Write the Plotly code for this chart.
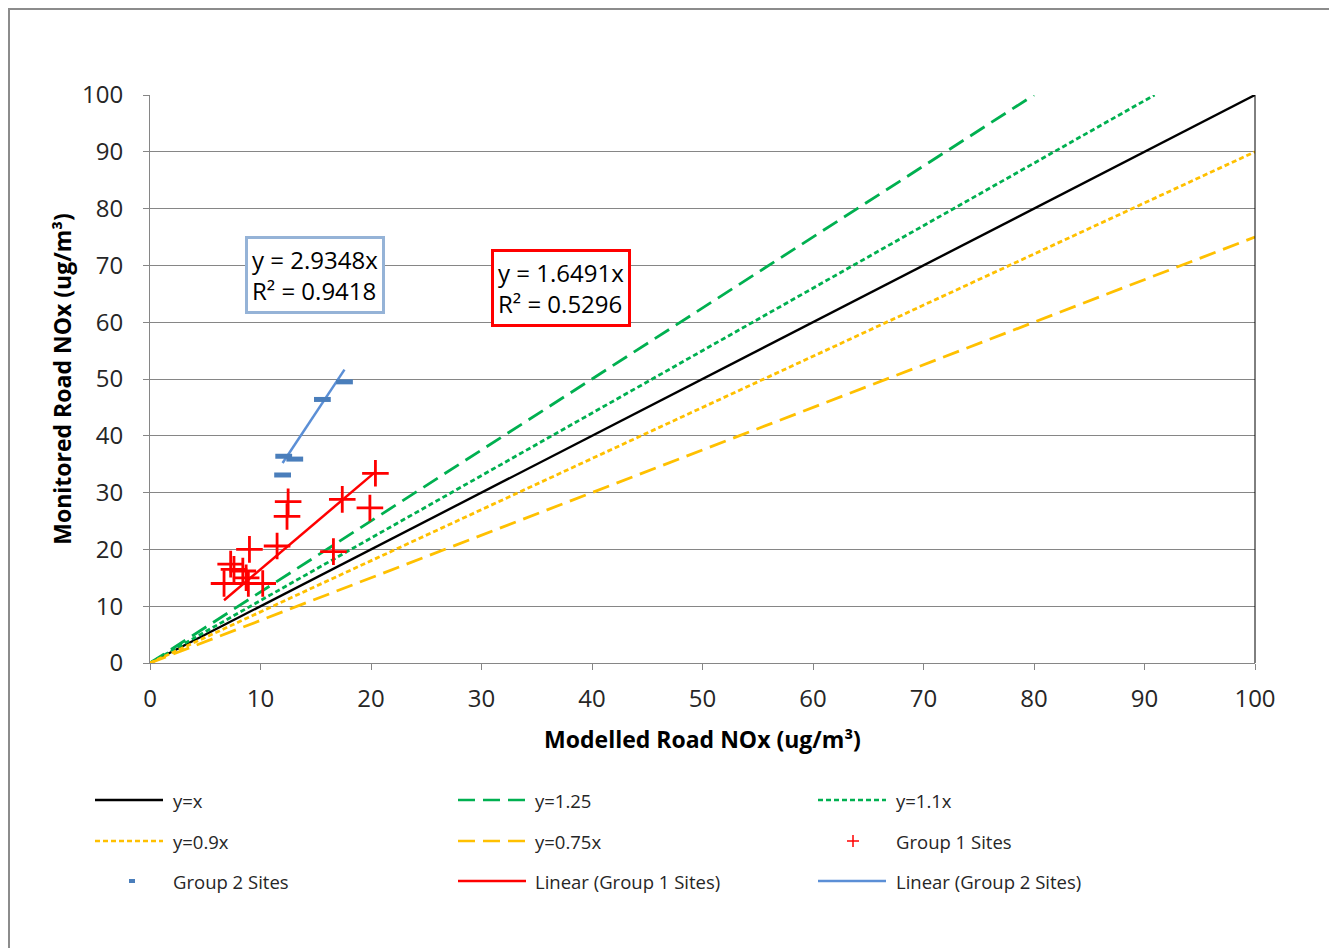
import plotly.graph_objects as go

# ---------------- data ----------------
group1_x = [6.7, 7.3, 7.6, 8.4, 8.9, 8.7, 9.0, 10.2, 11.5, 12.4, 12.5, 16.6, 17.4, 19.9, 20.4]
group1_y = [14.0, 17.4, 16.5, 16.2, 14.0, 15.0, 20.0, 14.0, 20.6, 25.8, 28.4, 19.6, 28.8, 27.3, 33.4]

group2_x = [12.0, 12.1, 13.1, 15.6, 17.6]
group2_y = [33.1, 36.4, 35.9, 46.4, 49.5]

group1_slope = 1.6491
group1_r2 = 0.5296
group2_slope = 2.9348
group2_r2 = 0.9418

ref_names = ["y=x", "y=1.25", "y=1.1x", "y=0.9x", "y=0.75x"]
ref_slopes = [1.0, 1.25, 1.1, 0.9, 0.75]
ref_colors = ["#000000", "#00B050", "#00B050", "#FFC000", "#FFC000"]
ref_dashes = ["solid", "17px,8px", "5px,3px", "5px,3px", "17px,8px"]

x_ticks = list(range(0, 101, 10))
y_ticks = list(range(0, 101, 10))

AXMAX = 100

# ---------------- layout geometry ----------------
OFF = 8                       # page body margin
W, H = 1337 - OFF, 948 - OFF
L, R, T, B = 150, 1255, 95, 663   # plot area in screen pixels


def px(xs):
    return (xs - L) / (R - L)


def py(ys):
    return (B - ys) / (B - T)


FONT = "Open Sans"
TXT = "#262626"

fig = go.Figure()

# reference lines
for name, k, col, dash in zip(ref_names, ref_slopes, ref_colors, ref_dashes):
    xe = min(AXMAX, AXMAX / k)
    fig.add_trace(go.Scatter(
        x=[0, xe], y=[0, k * xe], mode="lines", name=name,
        line=dict(color=col, width=2.8 if k != 1 else 2.4, dash=dash),
        showlegend=False, hoverinfo="skip"))

# trend lines
g1x = [min(group1_x), max(group1_x)]
fig.add_trace(go.Scatter(
    x=g1x, y=[group1_slope * v for v in g1x], mode="lines",
    name="Linear (Group 1 Sites)", line=dict(color="#FF0000", width=2.5),
    showlegend=False))
g2x = [min(group2_x), max(group2_x)]
fig.add_trace(go.Scatter(
    x=g2x, y=[group2_slope * v for v in g2x], mode="lines",
    name="Linear (Group 2 Sites)", line=dict(color="#5B8FD6", width=2.5),
    showlegend=False))

# points
fig.add_trace(go.Scatter(
    x=group1_x, y=group1_y, mode="markers", name="Group 1 Sites",
    marker=dict(symbol="cross-thin", size=19, line=dict(color="#FF0000", width=2.8)),
    showlegend=False))
fig.add_trace(go.Scatter(
    x=group2_x, y=group2_y, mode="markers", name="Group 2 Sites",
    marker=dict(symbol="line-ew", size=12, color="#4A7EBB",
                line=dict(color="#4A7EBB", width=5)),
    showlegend=False))

shapes = []
annotations = []

# outer chart frame
shapes.append(dict(type="rect", xref="paper", yref="paper",
                   x0=px(9), x1=px(1350), y0=py(960), y1=py(9),
                   line=dict(color="#8C8C8C", width=2), fillcolor="rgba(0,0,0,0)",
                   layer="below"))
# right border of plot area
shapes.append(dict(type="line", xref="paper", yref="paper",
                   x0=1, x1=1, y0=0, y1=1, line=dict(color="#000000", width=1)))

# equation boxes
annotations.append(dict(
    x=14.9, y=68.3, xref="x", yref="y", showarrow=False,
    text=f"y = {group2_slope}x<br>R² = {group2_r2}", align="left",
    font=dict(family=FONT, size=24, color="#000000"),
    bgcolor="white", bordercolor="#95B3D7", borderwidth=3, borderpad=4))
annotations.append(dict(
    x=37.2, y=66.0, xref="x", yref="y", showarrow=False,
    text=f"y = {group1_slope}x<br>R² = {group1_r2}", align="left",
    font=dict(family=FONT, size=24, color="#000000"),
    bgcolor="white", bordercolor="#FF0000", borderwidth=3, borderpad=4))

# manual legend (3 columns x 3 rows)
col_sym = [95, 458, 818]
col_txt = [171, 533, 894]
row_y = [800, 841, 881]
legend_items = [
    ("y=x", "line", "#000000", "solid"),
    ("y=1.25", "line", "#00B050", "17px,8px"),
    ("y=1.1x", "line", "#00B050", "5px,3px"),
    ("y=0.9x", "line", "#FFC000", "5px,3px"),
    ("y=0.75x", "line", "#FFC000", "17px,8px"),
    ("Group 1 Sites", "plus", "#FF0000", None),
    ("Group 2 Sites", "dash", "#4A7EBB", None),
    ("Linear (Group 1 Sites)", "line", "#FF0000", "solid"),
    ("Linear (Group 2 Sites)", "line", "#5B8FD6", "solid"),
]
for i, (label, kind, col, dash) in enumerate(legend_items):
    r, c = divmod(i, 3)
    yy = row_y[r]
    x0 = col_sym[c]
    if kind == "line":
        shapes.append(dict(type="line", xref="paper", yref="paper",
                           x0=px(x0), x1=px(x0 + 68), y0=py(yy), y1=py(yy),
                           line=dict(color=col, width=2.5, dash=dash)))
    elif kind == "plus":
        cx = x0 + 35
        shapes.append(dict(type="line", xref="paper", yref="paper",
                           x0=px(cx - 6), x1=px(cx + 6), y0=py(yy), y1=py(yy),
                           line=dict(color=col, width=1.5)))
        shapes.append(dict(type="line", xref="paper", yref="paper",
                           x0=px(cx), x1=px(cx), y0=py(yy - 6), y1=py(yy + 6),
                           line=dict(color=col, width=1.5)))
    else:
        cx = x0 + 37
        shapes.append(dict(type="rect", xref="paper", yref="paper",
                           x0=px(cx - 3), x1=px(cx + 3), y0=py(yy + 2), y1=py(yy - 2),
                           line=dict(width=0), fillcolor=col))
    annotations.append(dict(
        x=px(col_txt[c]), y=py(yy), xref="paper", yref="paper", showarrow=False,
        xanchor="left", yanchor="middle", text=label,
        font=dict(family=FONT, size=18.5, color=TXT)))

fig.update_layout(
    width=W, height=H,
    margin=dict(l=L - OFF, r=W - (R - OFF), t=T - OFF, b=H - (B - OFF), pad=0),
    paper_bgcolor="white", plot_bgcolor="white",
    showlegend=False,
    font=dict(family=FONT, color=TXT),
    shapes=shapes, annotations=annotations,
    xaxis=dict(range=[0, AXMAX], tickvals=x_ticks, showgrid=False,
               showline=True, linecolor="#868686", linewidth=1,
               ticks="outside", ticklen=6, tickcolor="#868686",
               ticklabelstandoff=8,
               tickfont=dict(family=FONT, size=24, color=TXT),
               zeroline=False, fixedrange=True,
               title=dict(text="<b>Modelled Road NOx (ug/m³)</b>",
                          font=dict(family=FONT, size=23, color="#000000"),
                          standoff=19)),
    yaxis=dict(range=[0, AXMAX], tickvals=y_ticks, showgrid=True,
               gridcolor="#868686", gridwidth=1,
               showline=True, linecolor="#868686", linewidth=1,
               ticks="outside", ticklen=6, tickcolor="#868686",
               ticklabelstandoff=15,
               tickfont=dict(family=FONT, size=24, color=TXT),
               zeroline=False, fixedrange=True,
               title=dict(text="<b>Monitored Road NOx (ug/m³)</b>",
                          font=dict(family=FONT, size=23, color="#000000"),
                          standoff=3)),
)

fig.write_html("out.html")
